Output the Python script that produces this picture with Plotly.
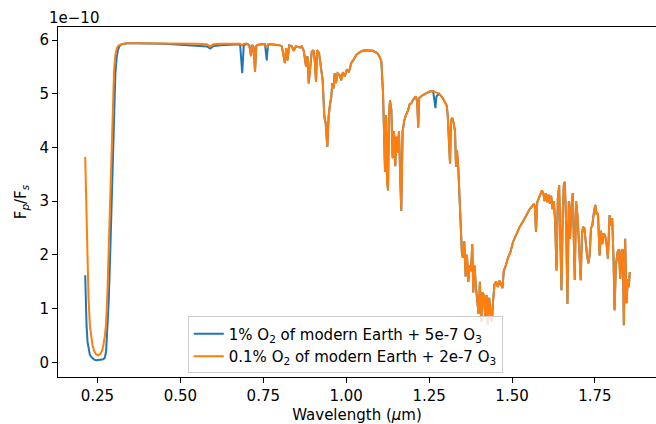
import plotly.graph_objects as go

# Planet/star flux contrast, in units of 1e-10, for two O2/O3 atmospheres.
# "o2_1pct"  : 1% O2 of modern Earth + 5e-7 O3
# "o2_01pct" : 0.1% O2 of modern Earth + 2e-7 O3

# --- UV: ozone Hartley band ---
wl_uv = [0.213, 0.215, 0.217, 0.220, 0.223, 0.227, 0.231, 0.235, 0.240, 0.246,
         0.252, 0.258, 0.264, 0.268, 0.272, 0.276, 0.280, 0.284, 0.288, 0.292,
         0.296, 0.300, 0.304, 0.308, 0.312, 0.317, 0.322, 0.330, 0.340]
o2_1pct_uv = [1.62, 1.05, 0.70, 0.38, 0.24, 0.14, 0.10, 0.07, 0.05, 0.04,
              0.04, 0.04, 0.05, 0.06, 0.08, 0.20, 0.58, 1.15, 1.93, 2.85,
              3.85, 4.75, 5.38, 5.68, 5.82, 5.89, 5.92, 5.93, 5.94]
o2_01pct_uv = [3.82, 3.15, 2.55, 1.80, 1.20, 0.70, 0.45, 0.31, 0.21, 0.15,
               0.13, 0.15, 0.22, 0.32, 0.48, 0.72, 1.30, 2.10, 3.08, 4.14,
               4.90, 5.43, 5.72, 5.84, 5.89, 5.91, 5.92, 5.93, 5.94]

# --- visible: Chappuis band, O2-B / O2-A, weak water lines ---
wl_vis = [0.36, 0.40, 0.45, 0.50, 0.55, 0.58, 0.590, 0.600, 0.62, 0.65,
          0.680, 0.6865, 0.691, 0.700, 0.708, 0.713, 0.717, 0.721, 0.725, 0.729,
          0.735, 0.745, 0.755, 0.7605, 0.764, 0.775, 0.790, 0.800, 0.806, 0.810,
          0.815, 0.819, 0.823, 0.828, 0.835, 0.842, 0.848, 0.855, 0.862]
o2_1pct_vis = [5.94, 5.94, 5.93, 5.91, 5.90, 5.88, 5.84, 5.89, 5.90, 5.91,
               5.92, 5.38, 5.90, 5.93, 5.90, 5.70, 5.91, 5.86, 5.41, 5.89,
               5.91, 5.92, 5.92, 5.62, 5.91, 5.92, 5.91, 5.90, 5.88, 5.75,
               5.57, 5.85, 5.62, 5.90, 5.89, 5.80, 5.88, 5.87, 5.86]
o2_01pct_vis = [5.94, 5.94, 5.94, 5.93, 5.93, 5.92, 5.88, 5.92, 5.93, 5.93,
                5.93, 5.90, 5.93, 5.93, 5.90, 5.70, 5.91, 5.86, 5.41, 5.89,
                5.91, 5.92, 5.92, 5.85, 5.92, 5.92, 5.91, 5.90, 5.88, 5.75,
                5.57, 5.85, 5.62, 5.90, 5.89, 5.80, 5.88, 5.87, 5.86]

# --- near-IR up to the 1.27 um O2 band (both models agree here) ---
wl_nir_a = [0.866, 0.872, 0.879, 0.883, 0.887, 0.892, 0.896, 0.901, 0.905, 0.909,
            0.912, 0.918, 0.924, 0.929, 0.934, 0.938, 0.943, 0.947, 0.951, 0.955,
            0.958, 0.962, 0.965, 0.969, 0.974, 0.980, 0.985, 0.990, 0.996, 1.002,
            1.008, 1.015, 1.022, 1.030, 1.040, 1.050, 1.060, 1.070, 1.080, 1.090,
            1.096, 1.101, 1.106, 1.111, 1.114, 1.117, 1.120, 1.123, 1.126, 1.129,
            1.132, 1.136, 1.140, 1.144, 1.148, 1.151, 1.155, 1.159, 1.163, 1.166,
            1.170, 1.175, 1.180, 1.186, 1.191, 1.196, 1.201, 1.206, 1.210, 1.214,
            1.217, 1.220, 1.230, 1.242, 1.252, 1.262]
flux_nir_a = [5.88, 5.80, 5.50, 5.70, 5.19, 5.55, 5.78, 5.81, 5.63, 5.22,
              5.81, 5.76, 5.50, 5.25, 4.57, 4.45, 4.01, 4.57, 4.80, 4.94,
              5.20, 5.10, 5.38, 5.20, 5.38, 5.35, 5.25, 5.40, 5.32, 5.45,
              5.40, 5.57, 5.63, 5.72, 5.77, 5.80, 5.81, 5.81, 5.80, 5.77,
              5.74, 5.68, 5.60, 5.00, 4.40, 3.55, 4.60, 3.40, 3.20, 4.60,
              4.88, 4.70, 3.80, 4.30, 3.65, 4.20, 3.90, 4.30, 3.40, 2.82,
              4.30, 4.50, 4.60, 4.68, 4.80, 4.82, 4.88, 4.92, 4.95, 4.85,
              4.37, 4.92, 4.97, 5.01, 5.04, 5.05]

# --- 1.27 um O2 band ---
wl_o2 = [1.266, 1.269, 1.272]
o2_1pct_o2 = [4.85, 4.73, 4.95]
o2_01pct_o2 = [5.04, 5.04, 5.03]

# --- near-IR water bands (both models agree here) ---
wl_nir_b = [1.280, 1.290, 1.297, 1.303, 1.306, 1.309, 1.313, 1.316, 1.320, 1.324,
            1.328, 1.331, 1.334, 1.338, 1.342, 1.346, 1.349, 1.352, 1.356, 1.360,
            1.364, 1.368, 1.372, 1.376, 1.380, 1.383, 1.387, 1.391, 1.395, 1.399,
            1.403, 1.407, 1.411, 1.415, 1.419, 1.423, 1.427, 1.431, 1.435, 1.439,
            1.443, 1.447, 1.452, 1.457, 1.462, 1.467, 1.471, 1.475, 1.480, 1.488,
            1.495, 1.503, 1.513, 1.523, 1.533, 1.543, 1.553, 1.560, 1.566, 1.569,
            1.572, 1.576, 1.580, 1.585, 1.590, 1.594, 1.598, 1.602, 1.606, 1.610,
            1.614, 1.618, 1.622, 1.626, 1.630, 1.634, 1.638, 1.642, 1.646, 1.649,
            1.653, 1.656, 1.659, 1.663, 1.667, 1.671, 1.675, 1.679, 1.683, 1.686,
            1.689, 1.693, 1.697, 1.701, 1.707, 1.711, 1.714, 1.718, 1.722, 1.726,
            1.730, 1.734, 1.738, 1.742, 1.747, 1.751, 1.755, 1.759, 1.764, 1.768,
            1.772, 1.776, 1.781, 1.785, 1.789, 1.794, 1.798, 1.802, 1.806, 1.809,
            1.813, 1.818, 1.822, 1.826, 1.830, 1.834, 1.837, 1.841, 1.845, 1.849,
            1.852, 1.855]
flux_nir_b = [5.00, 4.93, 4.85, 4.78, 4.60, 4.30, 3.70, 4.50, 4.55, 4.45,
              4.30, 3.64, 3.95, 3.60, 3.00, 2.40, 2.00, 1.95, 2.25, 1.60,
              2.00, 1.50, 1.80, 1.70, 2.20, 1.30, 1.80, 1.40, 1.20, 0.90,
              1.50, 0.75, 1.30, 1.25, 0.85, 1.25, 0.70, 1.20, 0.95, 0.75,
              1.15, 1.45, 1.50, 1.40, 1.52, 1.45, 1.38, 1.70, 1.78, 1.95,
              2.05, 2.24, 2.38, 2.52, 2.62, 2.75, 2.85, 2.90, 2.95, 2.90,
              2.43, 2.98, 3.05, 3.12, 3.20, 3.15, 3.00, 3.15, 2.98, 3.12,
              2.95, 3.10, 2.85, 3.00, 2.60, 1.71, 3.05, 3.30, 2.40, 1.34,
              2.80, 3.30, 3.36, 2.60, 1.09, 3.00, 2.30, 2.90, 3.15, 2.50,
              1.53, 3.00, 2.75, 2.30, 1.53, 2.40, 2.52, 2.50, 2.20, 2.00,
              1.84, 2.00, 2.50, 2.55, 2.80, 2.93, 2.75, 2.78, 1.99, 2.45,
              2.20, 2.40, 2.35, 2.20, 1.93, 2.74, 2.55, 2.68, 1.90, 0.97,
              1.80, 2.05, 2.10, 1.55, 2.08, 2.10, 0.69, 2.30, 1.10, 1.55,
              1.40, 1.68]

x_ticks = [0.25, 0.50, 0.75, 1.00, 1.25, 1.50, 1.75]
y_ticks = [0, 1, 2, 3, 4, 5, 6]
SCALE = 1e-10
FONT_SIZE = 15

wavelength = wl_uv + wl_vis + wl_nir_a + wl_o2 + wl_nir_b
series = [
    ("1% O<sub>2</sub> of modern Earth + 5e-7 O<sub>3</sub>", "#1f77b4",
     o2_1pct_uv + o2_1pct_vis + flux_nir_a + o2_1pct_o2 + flux_nir_b),
    ("0.1% O<sub>2</sub> of modern Earth + 2e-7 O<sub>3</sub>", "#ff7f0e",
     o2_01pct_uv + o2_01pct_vis + flux_nir_a + o2_01pct_o2 + flux_nir_b),
]

fig = go.Figure()
for name, color, vals in series:
    fig.add_trace(go.Scatter(
        x=wavelength, y=[v * SCALE for v in vals], mode="lines", name=name,
        line=dict(color=color, width=2),
    ))

axis_common = dict(
    showgrid=False, zeroline=False, showline=True, linecolor="black", linewidth=1,
    ticks="outside", ticklen=5, tickwidth=1, tickcolor="black",
    tickfont=dict(size=FONT_SIZE, color="black"),
)

fig.update_layout(
    width=656, height=424,
    margin=dict(l=58, r=0, t=27, b=47),
    plot_bgcolor="white", paper_bgcolor="white",
    font=dict(family="DejaVu Sans", size=FONT_SIZE, color="black"),
    showlegend=True,
    legend=dict(
        x=0.217, y=0.173, xanchor="left", yanchor="top",
        bgcolor="rgba(255,255,255,0.8)", bordercolor="#cccccc", borderwidth=1,
        font=dict(size=FONT_SIZE), tracegroupgap=0,
    ),
    xaxis=dict(
        range=[0.131, 1.934], tickvals=x_ticks,
        ticktext=[f"{t:.2f}" for t in x_ticks], mirror=True,
        title=dict(text="Wavelength (<i>μ</i>m)", font=dict(size=FONT_SIZE), standoff=5),
        **axis_common,
    ),
    yaxis=dict(
        range=[-0.274 * SCALE, 6.242 * SCALE],
        tickvals=[t * SCALE for t in y_ticks], ticktext=[str(t) for t in y_ticks],
        mirror=False,
        title=dict(text="F<sub><i>p</i></sub>/F<sub><i>s</i></sub>", font=dict(size=FONT_SIZE), standoff=9),
        **axis_common,
    ),
    annotations=[dict(
        text="1e\u221210", xref="paper", yref="paper", x=-0.0184, y=1.0257,
        xanchor="left", yanchor="middle", showarrow=False, font=dict(size=FONT_SIZE),
    )],
)

fig.write_html("out.html")
